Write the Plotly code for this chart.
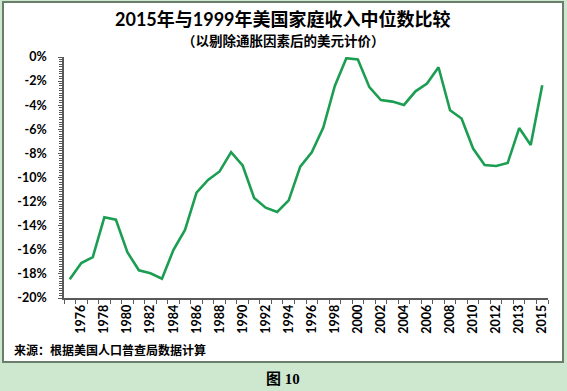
import plotly.graph_objects as go

# ---- data ----
years = ["1975", "1976", "1977", "1978", "1979", "1980", "1981", "1982", "1983", "1984",
         "1985", "1986", "1987", "1988", "1989", "1990", "1991", "1992", "1993", "1994",
         "1995", "1996", "1997", "1998", "1999", "2000", "2001", "2002", "2003", "2004",
         "2005", "2006", "2007", "2008", "2009", "2010", "2011", "2012", "2013", "2013",
         "2014", "2015"]
pct_vs_1999 = [-18.45, -17.1, -16.6, -13.3, -13.5, -16.2, -17.7, -17.95, -18.4, -16.0,
               -14.35, -11.25, -10.2, -9.5, -7.9, -9.0, -11.7, -12.5, -12.86, -11.9,
               -9.1, -7.9, -5.85, -2.4, -0.1, -0.2, -2.5, -3.57, -3.7, -3.98,
               -2.85, -2.2, -0.85, -4.42, -5.1, -7.6, -8.96, -9.05, -8.8, -5.9,
               -7.3, -2.35]
y_ticks = [0, -2, -4, -6, -8, -10, -12, -14, -16, -18, -20]
y_tick_text = ["0%", "-2%", "-4%", "-6%", "-8%", "-10%", "-12%", "-14%", "-16%", "-18%", "-20%"]

title = "2015年与1999年美国家庭收入中位数比较"
subtitle = "（以剔除通胀因素后的美元计价）"
source = "来源：根据美国人口普查局数据计算"
caption = "图 10"

# ---- geometry ----
W, H = 567, 391
L, R, T, B = 64, 19, 57, 93
PW, PH = W - L - R, H - T - B

def px(x):
    return (x - L) / PW

def py(y):
    return (H - B - y) / PH

idx = list(range(len(years)))
label_idx = [i for i in idx if i % 2 == 1]
label_txt = [years[i] for i in label_idx]

FONT = "Lato, 'Noto Sans CJK SC', sans-serif"
CJK = "'Noto Sans CJK SC', Lato, sans-serif"
AXC = "#595959"
BG = "#cde8cf"

fig = go.Figure()
fig.add_trace(go.Scatter(
    x=idx, y=pct_vs_1999, mode="lines",
    line=dict(color="#1c9e52", width=2.6),
    hoverinfo="skip", showlegend=False,
))

fig.update_layout(
    width=W, height=H,
    margin=dict(l=L, r=R, t=T, b=B, pad=0),
    paper_bgcolor=BG,
    plot_bgcolor="white",
    font=dict(family=FONT, color="black"),
    xaxis=dict(
        range=[-0.5, len(years) - 0.5],
        tickmode="array", tickvals=label_idx, ticktext=label_txt,
        tickangle=-90, ticks="", showgrid=False, zeroline=False,
        tickfont=dict(size=12.5, family="Lato", color="black", weight="bold"),
        showline=True, linecolor=AXC, linewidth=1.5,
        minor=dict(tickmode="array", tickvals=[i - 0.5 for i in range(len(years) + 1)],
                   ticks="outside", ticklen=4, tickwidth=1, tickcolor=AXC, showgrid=False),
        fixedrange=True,
    ),
    yaxis=dict(
        range=[-20, 0],
        tickmode="array", tickvals=y_ticks, ticktext=y_tick_text,
        ticks="outside", ticklen=4, tickwidth=1, tickcolor=AXC,
        showgrid=False, zeroline=False,
        tickfont=dict(size=12.5, family="Lato", color="black", weight="bold"),
        showline=True, linecolor=AXC, linewidth=1.5,
        minor=dict(dtick=0.2, tick0=0, ticks="outside", ticklen=3, tickwidth=1,
                   tickcolor=AXC, showgrid=False),
        ticklabelstandoff=9,
        fixedrange=True,
    ),
    shapes=[
        dict(type="rect", xref="paper", yref="paper",
             x0=px(3), x1=px(563), y0=py(362), y1=py(2),
             fillcolor="white", line=dict(color="#6a7e6c", width=2), layer="below"),
    ],
    annotations=[
        dict(text=f"<b>{title}</b>", xref="paper", yref="paper", x=px(283), y=py(19),
             xanchor="center", yanchor="middle", showarrow=False,
             font=dict(size=18, family=FONT, color="black")),
        dict(text=f"<b>{subtitle}</b>", xref="paper", yref="paper", x=px(283), y=py(40),
             xanchor="center", yanchor="middle", showarrow=False,
             font=dict(size=13.5, family=CJK, color="black")),
        dict(text=f"<b>{source}</b>", xref="paper", yref="paper", x=px(12), y=py(349),
             xanchor="left", yanchor="middle", showarrow=False,
             font=dict(size=12, family=CJK, color="black")),
        dict(text=f"<b>{caption}</b>", xref="paper", yref="paper", x=px(283), y=py(379),
             xanchor="center", yanchor="middle", showarrow=False,
             font=dict(size=15, family="'Liberation Serif', 'Noto Sans CJK SC', serif", color="black")),
    ],
)

fig.write_html(
    "out.html",
    config={"displayModeBar": False},
    post_script=f"document.body.style.margin='0px';document.body.style.overflow='hidden';document.body.style.background='{BG}';",
)
